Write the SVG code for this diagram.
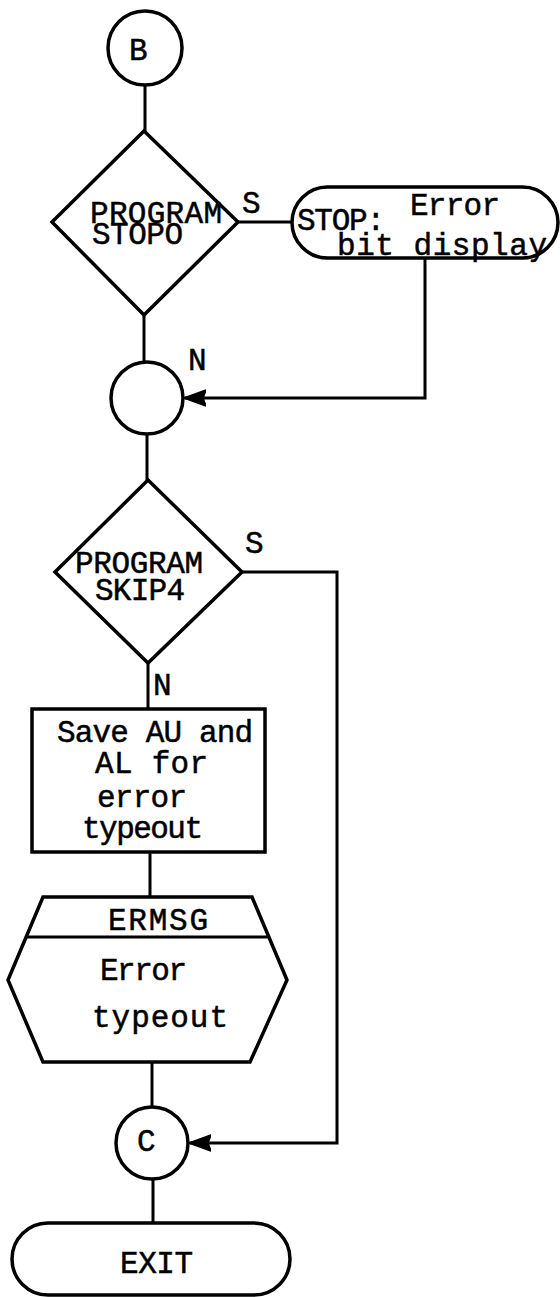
<svg xmlns="http://www.w3.org/2000/svg" width="560" height="1297" viewBox="0 0 560 1297">
<defs>
<style>
.s{fill:#fff;stroke:#000;stroke-width:3.5}
.c{fill:none;stroke:#000;stroke-width:3}
.t{font-family:"Liberation Mono",monospace;font-size:31px;fill:#000;stroke:#000;stroke-width:0.5}
</style>
<marker id="ah" markerUnits="userSpaceOnUse" markerWidth="26" markerHeight="20" refX="21" refY="10" orient="auto"><path d="M0,2 L22,10 L0,18 L3,10 Z" fill="#000" stroke="#000" stroke-width="1.5" stroke-linejoin="round"/></marker>
</defs>
<rect width="560" height="1297" fill="#fff"/>
<g id="connectors" class="c">
<path d="M145,85 V131"/>
<path d="M238,222 H292"/>
<path d="M144,315 V362"/>
<path d="M425,258 V398 H185" marker-end="url(#ah)"/>
<path d="M147,434 V480"/>
<path d="M242,572 H337 V1143 H190" marker-end="url(#ah)"/>
<path d="M148,663 V709"/>
<path d="M150,852 V897"/>
<path d="M152,1062 V1107"/>
<path d="M153,1180 V1223"/>
</g>
<g id="labels" class="t">
<text x="242" y="213">S</text>
<text x="188" y="370">N</text>
<text x="245" y="553">S</text>
<text x="153" y="695">N</text>
</g>
<g id="nodeB">
<circle class="s" cx="145" cy="48" r="37"/>
<text class="t" x="129" y="60" textLength="17">B</text>
</g>
<g id="decision1">
<polygon class="s" points="144,131 238,222 144,315 52,222"/>
<text class="t" x="90" y="223" textLength="132">PROGRAM</text>
<text class="t" x="92" y="244" textLength="91">STOPO</text>
</g>
<g id="stop">
<rect class="s" x="292" y="187" width="266" height="71" rx="35.5"/>
<text class="t" x="297" y="230" textLength="88">STOP:</text>
<text class="t" x="410" y="215" textLength="90">Error</text>
<text class="t" x="337" y="255" textLength="210">bit display</text>
</g>
<g id="join1">
<circle class="s" cx="147" cy="398" r="36"/>
</g>
<g id="decision2">
<polygon class="s" points="148,480 242,572 148,663 55,572"/>
<text class="t" x="75" y="573" textLength="128">PROGRAM</text>
<text class="t" x="95" y="600" textLength="90">SKIP4</text>
</g>
<g id="save">
<rect class="s" x="32" y="709" width="233" height="143"/>
<text class="t" x="57" y="742" textLength="196">Save AU and</text>
<text class="t" x="95" y="773" textLength="113">AL for</text>
<text class="t" x="97" y="807" textLength="90">error</text>
<text class="t" x="82" y="838" textLength="121">typeout</text>
</g>
<g id="ermsg">
<path class="s" d="M43,897 H252 L287,980 L250,1062 H43 L8,980 Z"/>
<path class="c" d="M26,937 H269"/>
<text class="t" x="108" y="930" textLength="100">ERMSG</text>
<text class="t" x="100" y="980" textLength="87">Error</text>
<text class="t" x="92" y="1027" textLength="136">typeout</text>
</g>
<g id="nodeC">
<circle class="s" cx="152" cy="1143" r="36"/>
<text class="t" x="137" y="1151" textLength="18">C</text>
</g>
<g id="exit">
<rect class="s" x="12" y="1223" width="278" height="72" rx="36"/>
<text class="t" x="120" y="1273" textLength="73">EXIT</text>
</g>
</svg>
